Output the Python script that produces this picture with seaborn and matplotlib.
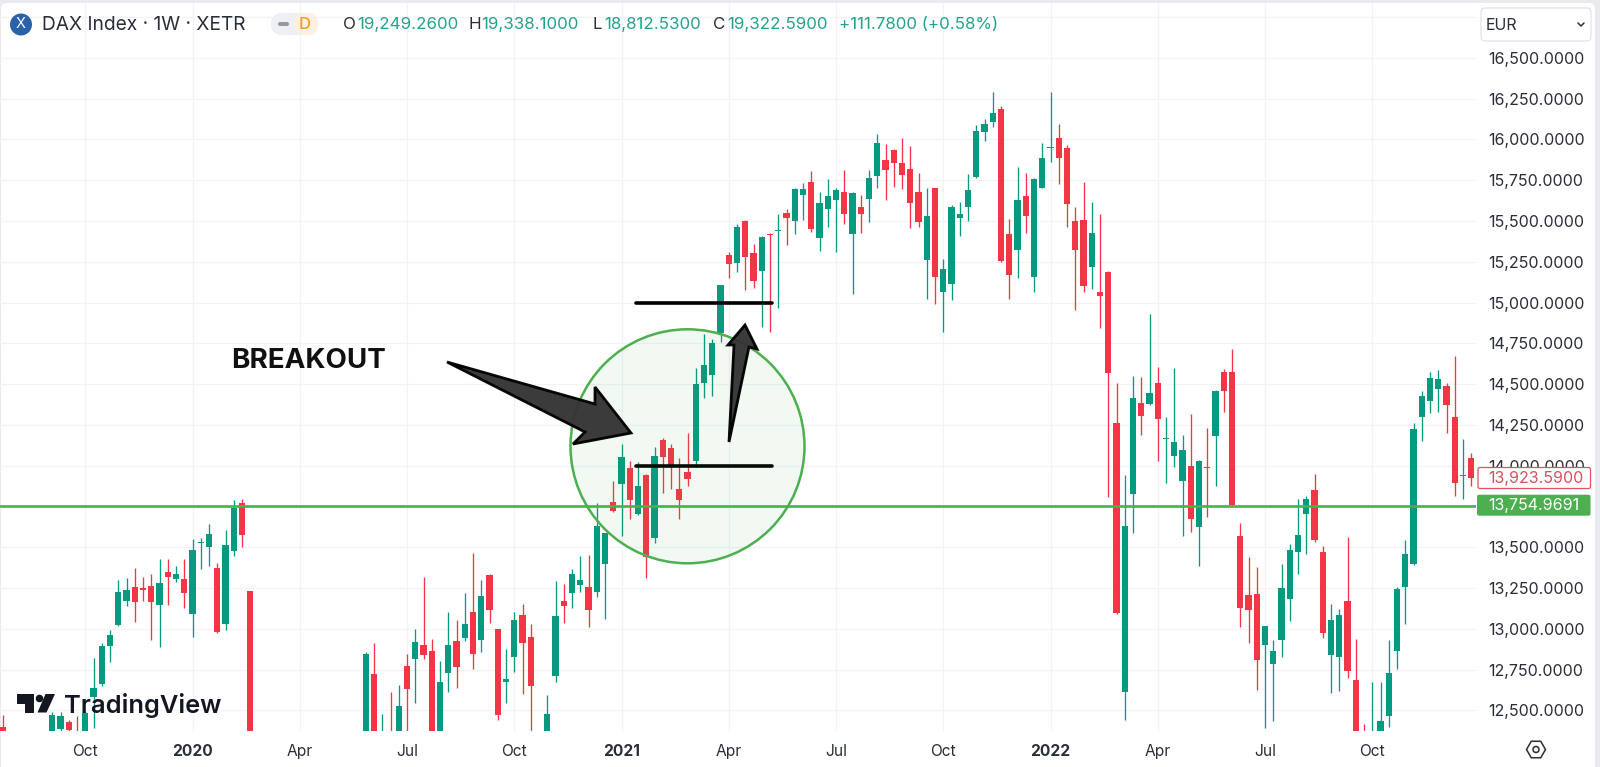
import numpy as np
import pandas as pd
import matplotlib
matplotlib.use("Agg")
import matplotlib.pyplot as plt
from matplotlib.patches import Circle, Polygon, FancyBboxPatch, RegularPolygon
import seaborn as sns

n = np.nan
opens = [12400, n, n, n, n, n, 12300, 12384, 12429, 12340,
 12300, 12584, 12660, 12897, 13023, 13169, 13256, 13248, 13263, 13146,
 13350, 13304, 13304, 13089, 13524, 13503, 13373, 13031, 13477, 13771,
 13230, n, n, n, n, n, n, n, n, n,
 n, n, n, n, 12300, 12723, 12250, 12350, 12300, 12774,
 12817, 12899, 12866, 12300, 12731, 12927, 12944, 13103, 12932, 13332,
 12999, 12674, 12826, 13085, 12950, n, 12300, 12713, 13171, 13218,
 13271, 13256, 13226, 13397, 13779, 13890, 13988, 13704, 13943, 13559,
 14158, 14110, 13857, 13963, 14031, 14505, 14554, 14812, 15292, 15241,
 15498, 15302, 15195, 15420, 15437, 15549, 15498, 15661, 15739, 15396,
 15572, 15631, 15678, 15422, 15586, 15635, 15776, 15876, 15933, 15857,
 15819, 15680, 15261, 15702, 15065, 15116, 15520, 15584, 15768, 16044,
 16109, 16188, 15418, 15324, 15653, 15155, 15704, 15948, 16007, 15948,
 15500, 15506, 15220, 15067, 15187, 14262, 12615, 13828, 14386, 14376,
 14507, 14164, 14058, 13908, 13998, 13626, 13994, 14182, 14574, 14576,
 13567, 13207, 13215, 12903, 12784, 12933, 13181, 13473, 13704, 13849,
 13473, 12840, 12827, 13172, 12686, 12350, 12250, 12300, 12466, 12866,
 13256, 13396, 14297, 14397, 14470, 14487, 14300, 13937, 14047]
closes = [12300, n, n, n, n, n, 12472, 12466, 12380, 12300,
 12482, 12635, 12895, 12960, 13228, 13240, 13166, 13236, 13166, 13283,
 13318, 13338, 13220, 13483, 13532, 13579, 12979, 13516, 13743, 13577,
 12200, n, n, n, n, n, n, n, n, n,
 n, n, n, n, 12846, 12300, 12340, 12250, 12529, 12633,
 12919, 12840, 12300, 12674, 12901, 12766, 13031, 12844, 13201, 13115,
 12470, 12691, 13052, 12913, 12648, n, 12478, 13077, 13138, 13336,
 13299, 13115, 13630, 13586, 13720, 14051, 13788, 13874, 13438, 14059,
 14051, 13994, 13788, 13920, 14501, 14619, 14752, 15105, 15238, 15463,
 15281, 15134, 15404, 15416, 15443, 15520, 15696, 15696, 15451, 15612,
 15651, 15690, 15541, 15672, 15545, 15764, 15980, 15813, 15857, 15784,
 15612, 15492, 15531, 15159, 15204, 15588, 15545, 15688, 16054, 16095,
 16162, 15255, 15171, 15627, 15533, 15757, 15884, 15954, 15886, 15606,
 15320, 15100, 15425, 15042, 14570, 13095, 13629, 14415, 14305, 14447,
 14286, 14172, 14143, 14096, 13673, 14027, 13986, 14460, 14460, 13759,
 13128, 13117, 12811, 13015, 12862, 13250, 13483, 13573, 13794, 13545,
 12974, 13052, 13087, 12741, 12250, 12250, 12350, 12437, 12727, 13244,
 13459, 14227, 14429, 14539, 14530, 14372, 13894, 13943, 13923.59]
highs = [12470, n, n, n, n, n, 12492, 12492, 12441, 12466,
 12498, 12819, 12915, 12993, 13299, 13310, 13373, 13318, 13338, 13426,
 13426, 13385, 13426, 13549, 13559, 13643, 13402, 13606, 13790, 13794,
 13234, n, n, n, n, n, n, n, n, n,
 n, n, n, n, 12860, 12915, 12480, 12615, 12656, 12844,
 13001, 13316, 12936, 12801, 13105, 13054, 13221, 13463, 13299, 13336,
 13001, 12876, 13105, 13150, 13028, n, 12594, 13295, 13275, 13367,
 13446, 13453, 13773, 13590, 13906, 14133, 14031, 14025, 13947, 14113,
 14172, 14133, 14049, 14199, 14597, 14805, 14777, 15110, 15312, 15480,
 15504, 15357, 15408, 15425, 15541, 15572, 15700, 15735, 15806, 15676,
 15757, 15700, 15813, 15680, 15661, 15813, 16031, 15972, 15940, 16007,
 15962, 15792, 15700, 15704, 15267, 15598, 15615, 15786, 16087, 16125,
 16293, 16205, 15512, 15833, 15796, 15765, 15976, 16289, 16093, 15966,
 15588, 15739, 15616, 15545, 15193, 14509, 13943, 14552, 14542, 14930,
 14607, 14300, 14601, 14188, 14317, 14035, 14229, 14464, 14593, 14714,
 13651, 13442, 13377, 13017, 12932, 13397, 13518, 13794, 13814, 13949,
 13510, 13152, 13123, 13565, 12936, 12417, 12672, 12672, 12932, 13258,
 13545, 14260, 14460, 14573, 14585, 14505, 14674, 14162, 14076]
lows = [12250, n, n, n, n, n, 12250, 12350, 12360, 12250,
 12250, 12390, 12650, 12799, 13020, 13142, 13044, 13169, 12932, 12889,
 13146, 13289, 13126, 12952, 13365, 13385, 12975, 12993, 13448, 13502,
 12100, n, n, n, n, n, n, n, n, n,
 n, n, n, n, 12250, 12250, 12200, 12200, 12250, 12350,
 12543, 12815, 12250, 12250, 12611, 12639, 12927, 12754, 12860, 13038,
 12441, 12543, 12733, 12600, 12350, n, 12250, 12672, 13038, 13130,
 13228, 13013, 13193, 13060, 13715, 13571, 13675, 13700, 13313, 13524,
 13831, 13857, 13671, 13876, 13990, 14417, 14427, 14760, 15149, 15189,
 15077, 15091, 14852, 14821, 14965, 15353, 15418, 15506, 15433, 15316,
 15465, 15308, 15482, 15053, 15428, 15496, 15704, 15629, 15708, 15696,
 15455, 15461, 15022, 14989, 14821, 15016, 15410, 15500, 15765, 15990,
 16078, 15249, 15020, 15152, 15425, 15063, 15700, 15864, 15729, 15461,
 14954, 15065, 15081, 14846, 13810, 13093, 12441, 13586, 14190, 14372,
 14029, 13892, 13994, 13569, 13595, 13385, 13687, 13876, 14331, 13755,
 13013, 12911, 12625, 12390, 12437, 12829, 13050, 13336, 13459, 13530,
 12946, 12605, 12621, 12700, 12200, 12200, 12200, 12250, 12400, 12752,
 13028, 13393, 14151, 14325, 14331, 14199, 13816, 13794, 13876]

price_ticks = [12500, 12750, 13000, 13250, 13500, 13750, 14000, 14250, 14500,
               14750, 15000, 15250, 15500, 15750, 16000, 16250, 16500]
hidden_ticks = [13750, 16750]
time_ticks = [10, 23, 36, 49, 62, 75, 88, 101, 114, 127, 140, 153, 166]
time_labels = ["Oct", "2020", "Apr", "Jul", "Oct", "2021", "Apr", "Jul", "Oct", "2022", "Apr", "Jul", "Oct"]
support_level = 13754.9691
last_close = 13923.59
breakout_levels = [15000, 14000]
breakout_span = [76.8, 93.2]

UP, DOWN = "#089981", "#f23645"
INK = "#2a2e39"
sns.set_theme(style="white")
plt.rcParams["font.family"] = ["Inter", "Roboto", "DejaVu Sans"]

W, H = 1600, 767
fig = plt.figure(figsize=(W / 100, H / 100), dpi=100, facecolor="#e8eaee")

back = fig.add_axes([0, 0, 1, 1], zorder=-1)
back.set_xlim(0, W); back.set_ylim(H, 0); back.axis("off")
back.add_patch(FancyBboxPatch((6, 8), 1584, 790, boxstyle="round,pad=5,rounding_size=6",
                              fc="white", ec="none"))

ax = fig.add_axes([0, 1 - 731 / H, 1476 / W, 728 / H], facecolor="none")
df = pd.DataFrame({"week": np.arange(len(opens)), "open": opens, "high": highs,
                   "low": lows, "close": closes}).dropna()
df["base"] = df[["open", "close"]].min(axis=1)
df["body"] = (df["close"] - df["open"]).abs()
df["rising"] = df["close"] >= df["open"]

for rising, colour in [(True, UP), (False, DOWN)]:
    sub = df[df["rising"] == rising]
    ax.vlines(sub["week"], sub["low"], sub["high"], colors=colour, lw=0.95, zorder=2)
    sns.barplot(data=sub, x="week", y="body", bottom=sub["base"].values, native_scale=True,
                width=0.76, color=colour, saturation=1, errorbar=None, linewidth=0,
                zorder=3, ax=ax)

ax.axhline(support_level, color="#4caf50", lw=1.9, zorder=4)
ax.hlines(breakout_levels, breakout_span[0], breakout_span[1], color="black", lw=2.6, zorder=6,
          capstyle="round")

ax.set_xlim(-0.34, 178.57)
ax.set_ylim(12374, 16836)
ax.set_xlabel(""); ax.set_ylabel("")
for s in ax.spines.values():
    s.set_visible(False)
ax.yaxis.tick_right()
all_ticks = sorted(price_ticks + [16750])
ax.set_yticks(all_ticks)
ax.set_yticklabels(["" if v in hidden_ticks else f"{v:,.4f}" for v in all_ticks])
ax.set_xticks(time_ticks)
ax.set_xticklabels(time_labels)
ax.tick_params(axis="y", length=0, pad=8.6, labelsize=11.5, labelcolor=INK)
ax.tick_params(axis="x", length=0, pad=9.2, labelsize=11.2, labelcolor=INK)
for lab in ax.get_xticklabels():
    if lab.get_text().startswith("20"):
        lab.set_fontweight("bold")
ax.grid(True, color="#f1f3f6", lw=0.9, zorder=0)
ax.set_axisbelow(True)

# overlay in pixel space: drawings and chart chrome
ov = fig.add_axes([0, 0, 1, 1], facecolor="none", zorder=5)
ov.set_xlim(0, W); ov.set_ylim(H, 0); ov.axis("off")

ov.add_patch(Circle((687.5, 446.3), 117, fc=(0.3, 0.69, 0.31, 0.07), ec="#4caf50", lw=1.8))
big = [(447, 362), (595, 404), (595, 387), (631, 433), (573, 444), (585, 432)]
ov.add_patch(Polygon(big, closed=True, fc="#333333", ec="black", lw=2, joinstyle="miter", alpha=0.96))
small = [(729, 442), (734, 345), (728, 345), (745, 325), (757, 349), (749, 347)]
ov.add_patch(Polygon(small, closed=True, fc="#333333", ec="black", lw=2, joinstyle="miter", alpha=0.96))
ov.text(231, 360.5, "BREAKOUT", fontsize=20, fontweight="bold", color="#111111", va="center", ha="left")

# header
ov.add_patch(Circle((21, 24.5), 11, fc="#2962a8", ec="none"))
ov.text(21, 24.5, "X", color="white", fontsize=10.5, ha="center", va="center")
ov.text(42, 24.5, "DAX Index · 1W · XETR", fontsize=13.8, color=INK, va="center", ha="left")
ov.add_patch(FancyBboxPatch((271, 13), 47, 22, boxstyle="round,pad=0,rounding_size=11", fc="#eff0f3", ec="none"))
ov.add_patch(FancyBboxPatch((294, 13), 24, 22, boxstyle="round,pad=0,rounding_size=11", fc="#fdf0e0", ec="none"))
ov.add_patch(FancyBboxPatch((278, 22), 11, 4, boxstyle="round,pad=0,rounding_size=2", fc="#9598a1", ec="none"))
ov.text(305, 24.5, "D", color="#f39c28", fontsize=12, fontweight="medium", ha="center", va="center")
VAL = "#22a28c"
header_items = [(343, "O", INK), (357, "19,249.2600", VAL), (468, "H", INK), (481, "19,338.1000", VAL),
                (592, "L", INK), (604, "18,812.5300", VAL), (713, "C", INK),
                (727, "19,322.5900", VAL), (839, "+111.7800 (+0.58%)", VAL)]
for x, s, c in header_items:
    ov.text(x, 24.5, s, color=c, fontsize=12.2, va="center", ha="left")

# currency box
ov.add_patch(FancyBboxPatch((1481, 8), 110, 33, boxstyle="round,pad=0,rounding_size=4", fc="white", ec="#e0e3eb", lw=0.9))
ov.text(1486, 25, "EUR", fontsize=11.5, color=INK, va="center", ha="left")
ov.plot([1578, 1581, 1584], [23, 26, 23], color=INK, lw=1.1)

# price tags
ov.add_patch(FancyBboxPatch((1478, 467.5), 112.5, 21, boxstyle="round,pad=0,rounding_size=2", fc="white", ec="#e0505e", lw=0.9))
ov.text(1488, 478, f"{last_close:,.4f}", fontsize=11.5, color="#d9505e", va="center", ha="left")
ov.add_patch(FancyBboxPatch((1477, 494.7), 113.5, 21, boxstyle="round,pad=0,rounding_size=2", fc="#4caf50", ec="none"))
ov.text(1488, 505.3, f"{support_level:,.4f}", fontsize=11.5, color="white", va="center", ha="left")

# logo
LOGO = "#131722"
ov.add_patch(Polygon([(17, 694), (33.5, 694), (33.5, 712.5), (25, 712.5), (25, 703.5), (17, 703.5)], fc=LOGO, ec="none"))
ov.add_patch(Circle((39.5, 698.5), 3.8, fc=LOGO, ec="none"))
ov.add_patch(Polygon([(45.5, 694), (55, 694), (46.5, 712.5), (37.5, 712.5)], fc=LOGO, ec="none"))
ov.text(64, 705.5, "TradingView", fontsize=18.3, fontweight="semibold", color=LOGO, va="center", ha="left")

# settings icon
ov.add_patch(RegularPolygon((1536, 749.5), 6, radius=9.5, orientation=np.pi / 2, fc="white", ec=INK, lw=1.1))
ov.add_patch(Circle((1536, 749.5), 3, fc="white", ec=INK, lw=1.1))

fig.savefig("out.png", dpi=100, facecolor=fig.get_facecolor())
